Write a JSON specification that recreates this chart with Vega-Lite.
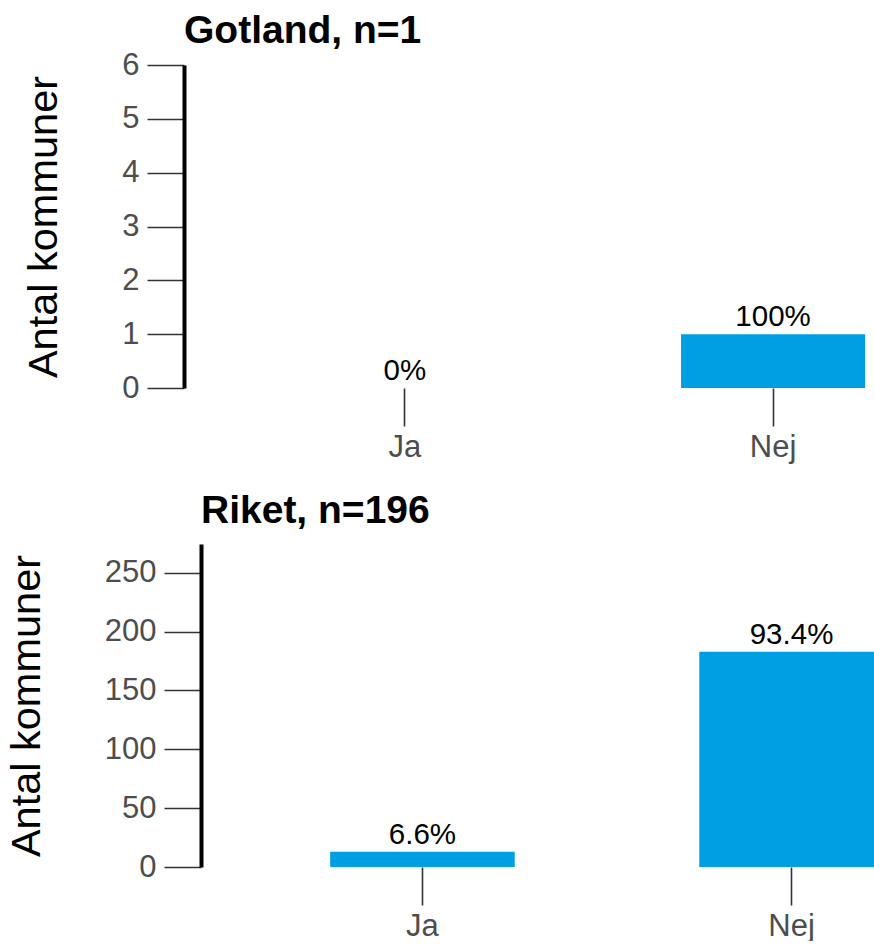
{
  "$schema": "https://vega.github.io/schema/vega-lite/v6.json",
  "padding": {"left": 6, "top": 12, "right": 0, "bottom": 0},
  "background": "white",
  "config": {"font": "Liberation Sans", "view": {"stroke": null}},
  "spacing": 30,
  "vconcat": [
    {
      "title": {"text": "Gotland, n=1", "anchor": "start", "frame": "group", "fontSize": 39, "fontWeight": "bold", "color": "black", "baseline": "bottom", "offset": -41},
      "width": 691,
      "height": 323,
      "data": {"values": [
        {"svar": "Ja", "antal": 0, "andel": "0%"},
        {"svar": "Nej", "antal": 1, "andel": "100%"}
      ]},
      "encoding": {
        "x": {"field": "svar", "type": "nominal", "sort": ["Ja", "Nej"],
          "scale": {"range": [0, 810], "paddingInner": 0.5, "paddingOuter": 0.35},
          "axis": {"title": null, "domain": false, "labelAngle": 0, "tickSize": 38, "tickColor": "#333333", "tickWidth": 1.6, "labelPadding": 6, "labelFontSize": 31, "labelColor": "#4D4D4D"}},
        "y": {"field": "antal", "type": "quantitative",
          "scale": {"domain": [0, 6], "nice": false},
          "axis": {"title": "Antal kommuner", "titleFontSize": 41.5, "titleFontWeight": "normal", "titleColor": "black", "titlePadding": 56, "labelFontSize": 31, "labelColor": "#4D4D4D", "labelPadding": 8, "tickSize": 37, "tickColor": "#333333", "tickWidth": 1.6, "domainColor": "black", "domainWidth": 4, "grid": false, "values": [0, 1, 2, 3, 4, 5, 6]}}
      },
      "layer": [
        {"mark": {"type": "bar", "color": "#009FE3", "clip": true}},
        {"mark": {"type": "text", "dy": -8, "baseline": "alphabetic", "fontSize": 29.5, "color": "black"}, "encoding": {"text": {"field": "andel"}}}
      ]
    },
    {
      "title": {"text": "Riket, n=196", "anchor": "start", "frame": "group", "fontSize": 39, "fontWeight": "bold", "color": "black", "baseline": "bottom", "offset": -26, "dx": 17},
      "width": 691,
      "height": 323,
      "data": {"values": [
        {"svar": "Ja", "antal": 13, "andel": "6.6%"},
        {"svar": "Nej", "antal": 183, "andel": "93.4%"}
      ]},
      "encoding": {
        "x": {"field": "svar", "type": "nominal", "sort": ["Ja", "Nej"],
          "scale": {"range": [17, 829], "paddingInner": 0.5, "paddingOuter": 0.35},
          "axis": {"title": null, "domain": false, "labelAngle": 0, "tickSize": 38, "tickColor": "#333333", "tickWidth": 1.6, "labelPadding": 6, "labelFontSize": 31, "labelColor": "#4D4D4D"}},
        "y": {"field": "antal", "type": "quantitative",
          "scale": {"domain": [0, 274.5], "nice": false},
          "axis": {"title": "Antal kommuner", "offset": -17, "titleFontSize": 41.5, "titleFontWeight": "normal", "titleColor": "black", "titlePadding": 56, "labelFontSize": 31, "labelColor": "#4D4D4D", "labelPadding": 8, "tickSize": 37, "tickColor": "#333333", "tickWidth": 1.6, "domainColor": "black", "domainWidth": 4, "grid": false, "values": [0, 50, 100, 150, 200, 250]}}
      },
      "layer": [
        {"mark": {"type": "bar", "color": "#009FE3", "clip": true}},
        {"mark": {"type": "text", "dy": -8, "baseline": "alphabetic", "fontSize": 29.5, "color": "black"}, "encoding": {"text": {"field": "andel"}}}
      ]
    }
  ]
}
